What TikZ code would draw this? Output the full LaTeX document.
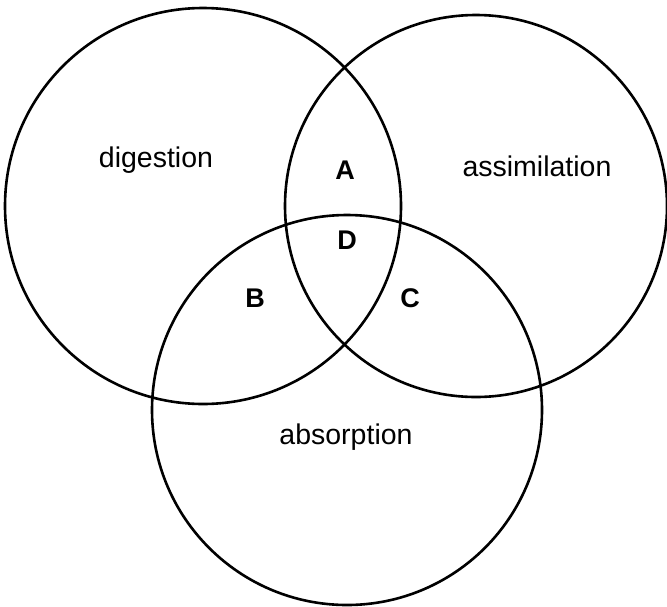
\documentclass[tikz,border=0pt]{standalone}
\usepackage{fontspec}
\setmainfont{Liberation Sans}
\begin{document}
\begin{tikzpicture}[x=1pt,y=-1pt,
  ring/.style={draw=black,line width=2.6pt},
  setlabel/.style={font=\fontsize{28.5}{31}\selectfont,inner sep=0pt},
  zonelabel/.style={font=\fontsize{27}{30}\selectfont\bfseries,inner sep=0pt}]
\useasboundingbox (0,0) rectangle (667,606);
\draw[ring] (203,206) circle[radius=198];
\draw[ring] (476,206) circle[radius=191];
\draw[ring] (347,410) circle[radius=195];
\node[setlabel] (dig) at (156,160) {digestion};
\node[setlabel] (ass) at (537,166) {assimilation};
\node[setlabel] (abs) at (346,437) {absorption};
\node[zonelabel] (A) at (345,170) {A};
\node[zonelabel] (D) at (347,240) {D};
\node[zonelabel] (B) at (255,298) {B};
\node[zonelabel] (C) at (410,298) {C};
\end{tikzpicture}
\end{document}
